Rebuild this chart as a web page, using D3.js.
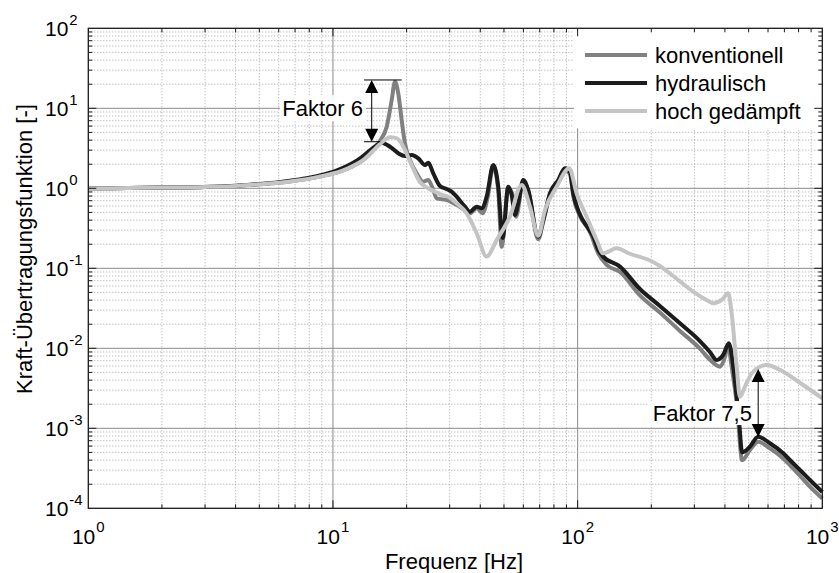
<!DOCTYPE html>
<html><head><meta charset="utf-8">
<script src="https://cdn.jsdelivr.net/npm/d3@7"></script>
<style>body{margin:0;background:#fff;} text{font-family:"Liberation Sans",Arial,Helvetica,sans-serif;fill:#000;}</style>
</head><body><svg id="c" width="839" height="573"></svg>
<script>
// ---------------- data ----------------
const seriesNames = ["konventionell", "hydraulisch", "hoch gedämpft"];

const freqKonv = [1,2,3,4,5,6,7,8,9,10,11,12,13,14,15,15.56,16.58,17.38,17.92,18.49,19.09,19.69,20.64,21.99,23.39,24.52,25.7,26.53,29.15,33.04,36.3,38.67,40.91,42.8,45.2,47.37,48.91,52.05,54.56,55.96,59.95,62.83,69.02,72.34,77.05,83.33,88.74,93.0,95.94,102.2,112.3,121.4,131.4,148.9,179.7,216.9,261.9,316.1,347.3,381.6,395,412.6,426.1,449,470,506.1,547.2,610.8,692.1,737.1,835.6,890,1000];
const valKonv  = [1.0,1.02,1.04,1.07,1.12,1.17,1.24,1.32,1.42,1.53,1.68,1.88,2.15,2.6,3.3,3.9,5.89,12.7,21.5,15.4,7.14,3.65,2.26,1.54,1.21,1.27,0.953,0.75,0.714,0.589,0.487,0.562,0.487,0.75,1.86,0.95,0.186,1.0,0.785,0.44,1.21,0.92,0.23,0.38,0.825,1.2,1.69,1.5,0.8,0.45,0.285,0.154,0.11,0.09,0.046,0.028,0.0165,0.0099,0.0072,0.0059,0.0069,0.0105,0.0059,0.0018,0.0004,0.000535,0.00068,0.00056,0.00042,0.000348,0.00023,0.000186,0.000133];

const freqHydr = [1,2,3,4,5,6,7,8,9,10,11,12,13,14,15,15.8,17.1,18.49,19.69,20.97,22.32,23.77,24.52,25.7,27.37,29.15,30.55,32.02,34.63,36.3,38.67,40.53,42.48,45.2,47.37,49.37,52.05,53.75,55.44,57.19,59.95,62.83,69.02,72.34,77.05,83.33,88.74,93.0,95.94,102.2,110.5,115.8,121.4,127.2,148.9,179.7,216.9,261.9,316.1,347.3,369.9,393.6,415,432.5,446.6,457.6,470,506.1,547.2,610.8,692.1,737.1,835.6,890,1000];
const valHydr  = [1.0,1.02,1.04,1.08,1.13,1.19,1.27,1.36,1.47,1.6,1.8,2.05,2.4,2.9,3.4,3.72,3.31,2.74,2.53,2.61,2.37,1.95,2.09,1.54,1.07,0.98,0.907,0.785,0.589,0.51,0.589,0.562,0.785,1.95,1.047,0.24,1.047,0.825,0.464,0.649,1.27,0.953,0.248,0.4,0.866,1.27,1.78,1.61,0.866,0.47,0.316,0.248,0.169,0.14,0.105,0.0551,0.0338,0.0205,0.0123,0.009,0.00714,0.00825,0.0116,0.00589,0.00248,0.00116,0.0005,0.00059,0.000785,0.00065,0.000487,0.000402,0.000274,0.000226,0.00016];

const freqGed = [1,2,3,4,5,6,7,8,9,10,11,12,13,14,15,16,17.1,17.92,18.78,19.69,20.97,22.68,24.52,26.12,27.81,29.59,32.02,35.19,38.67,42.48,46.67,52.89,59.05,63.85,69.02,73.51,82.09,92.4,99.06,108.8,119.6,127.2,131.4,144.3,163.6,197.5,216.9,253.9,296.8,347.3,358.3,387.7,412.6,426.1,446.6,460.7,482.9,514.2,555.9,592.1,692.1,835.6,1000];
const valGed  = [1.0,1.02,1.04,1.07,1.12,1.17,1.24,1.32,1.42,1.53,1.68,1.88,2.15,2.6,3.2,3.85,4.35,4.3,3.9,3.0,1.95,1.2,1.0,0.907,0.825,0.785,0.649,0.487,0.274,0.14,0.226,0.442,1.1,0.589,0.255,0.535,1.047,1.78,0.866,0.442,0.226,0.154,0.158,0.178,0.152,0.125,0.107,0.074,0.051,0.038,0.0365,0.0402,0.0487,0.0274,0.0059,0.00248,0.00331,0.00487,0.00589,0.0062,0.0051,0.00348,0.00237];

const xTickExps = [0, 1, 2, 3];
const yTickExps = [-4, -3, -2, -1, 0, 1, 2];
const xLabel = "Frequenz [Hz]";
const yLabel = "Kraft-Übertragungsfunktion [-]";
const annotText1 = "Faktor 6";
const annotText2 = "Faktor 7,5";

// ---------------- chart ----------------
const svg = d3.select("#c");
const L = 88.3, R = 822.3, T = 28.3, B = 508.3;
const x = d3.scaleLog().domain([1, 1000]).range([L, R]);
const y = d3.scaleLog().domain([1e-4, 1e2]).range([B, T]);

// grid
const grid = svg.append("g");
for (let d = 0; d < 3; d++) for (let m = 1; m <= 9; m++) {
  const f = m * Math.pow(10, d);
  if (f <= 1) continue;
  const X = x(f);
  grid.append("line").attr("x1", X).attr("x2", X).attr("y1", T).attr("y2", B)
    .attr("stroke", m === 1 ? "#8a8a8a" : "#a6a6a6").attr("stroke-width", 1)
    .attr("stroke-dasharray", m === 1 ? null : "1,2");
}
for (let d = -4; d < 2; d++) for (let m = 1; m <= 9; m++) {
  const v = m * Math.pow(10, d);
  if (v <= 1e-4) continue;
  const Y = y(v);
  grid.append("line").attr("x1", L).attr("x2", R).attr("y1", Y).attr("y2", Y)
    .attr("stroke", m === 1 ? "#8a8a8a" : "#a6a6a6").attr("stroke-width", 1)
    .attr("stroke-dasharray", m === 1 ? null : "1,2");
}

// curves
const line = d3.line().x(d => x(d[0])).y(d => y(d[1])).curve(d3.curveMonotoneX);
const series = [
  {f: freqKonv, v: valKonv, color: "#808080"},
  {f: freqHydr, v: valHydr, color: "#1c1c1c"},
  {f: freqGed, v: valGed, color: "#c4c4c4"}
];
const plot = svg.append("g");
series.forEach(s => {
  plot.append("path").datum(s.f.map((f, i) => [f, s.v[i]]))
    .attr("d", line).attr("fill", "none").attr("stroke", s.color)
    .attr("stroke-width", 4).attr("stroke-linejoin", "round");
});

// legend
const leg = svg.append("g");
leg.append("rect").attr("x", 574).attr("y", T + 1).attr("width", R - 574 - 1).attr("height", 99).attr("fill", "#fff");
seriesNames.forEach((n, i) => {
  const yy = 55 + i * 28;
  leg.append("line").attr("x1", 585).attr("x2", 647).attr("y1", yy).attr("y2", yy)
    .attr("stroke", series[i].color).attr("stroke-width", 4);
  leg.append("text").attr("x", 655).attr("y", yy + 8).attr("font-size", 22).text(n);
});

// annotations
function arrowHead(g, X, Y, dir) { // dir -1: pointing up, +1: pointing down
  const h = 13, w = 6.5;
  g.append("path").attr("d", `M${X},${Y} L${X - w},${Y - dir * h} L${X + w},${Y - dir * h} Z`).attr("fill", "#000");
}
const ann = svg.append("g");
// Faktor 6
{
  const ax = x(14.4), yTop = y(22.6), yBot = y(3.82);
  ann.append("line").attr("x1", x(13.4)).attr("x2", x(19.1)).attr("y1", yTop).attr("y2", yTop).attr("stroke", "#000").attr("stroke-width", 1);
  ann.append("line").attr("x1", x(13.4)).attr("x2", x(15.6)).attr("y1", yBot).attr("y2", yBot).attr("stroke", "#000").attr("stroke-width", 1);
  ann.append("line").attr("x1", ax).attr("x2", ax).attr("y1", yTop + 10).attr("y2", yBot - 10).attr("stroke", "#000").attr("stroke-width", 1);
  arrowHead(ann, ax, yTop, -1);
  arrowHead(ann, ax, yBot, 1);
  const tx = x(13.27), ty = y(10);
  ann.append("rect").attr("x", tx - 83).attr("y", ty - 13).attr("width", 86).attr("height", 26).attr("fill", "#fff");
  ann.append("text").attr("x", tx).attr("y", ty + 8).attr("text-anchor", "end").attr("font-size", 22).text(annotText1);
}
// Faktor 7,5
{
  const tx = x(515.6), ty = y(0.00155);
  ann.append("rect").attr("x", tx - 103).attr("y", ty - 12).attr("width", 106).attr("height", 24).attr("fill", "#fff");
  ann.append("text").attr("x", tx).attr("y", ty + 8).attr("text-anchor", "end").attr("font-size", 22).text(annotText2);
  const ax = x(547), yTop = y(0.0055), yBot = y(0.00078);
  ann.append("line").attr("x1", ax).attr("x2", ax).attr("y1", yTop + 10).attr("y2", yBot - 10).attr("stroke", "#000").attr("stroke-width", 1);
  arrowHead(ann, ax, yTop, -1);
  arrowHead(ann, ax, yBot, 1);
}

// frame + ticks
const ax = svg.append("g");
ax.append("rect").attr("x", L).attr("y", T).attr("width", R - L).attr("height", B - T)
  .attr("fill", "none").attr("stroke", "#1a1a1a").attr("stroke-width", 1.3);
for (let d = 0; d < 3; d++) for (let m = 1; m <= 9; m++) {
  const f = m * Math.pow(10, d);
  if (f <= 1) continue;
  const X = x(f), len = m === 1 ? 8 : 4;
  ax.append("line").attr("x1", X).attr("x2", X).attr("y1", B).attr("y2", B - len).attr("stroke", "#1a1a1a");
  ax.append("line").attr("x1", X).attr("x2", X).attr("y1", T).attr("y2", T + len).attr("stroke", "#1a1a1a");
}
for (let d = -4; d < 2; d++) for (let m = 1; m <= 9; m++) {
  const v = m * Math.pow(10, d);
  if (v <= 1e-4) continue;
  const Y = y(v), len = m === 1 ? 8 : 4;
  ax.append("line").attr("x1", L).attr("x2", L + len).attr("y1", Y).attr("y2", Y).attr("stroke", "#1a1a1a");
  ax.append("line").attr("x1", R).attr("x2", R - len).attr("y1", Y).attr("y2", Y).attr("stroke", "#1a1a1a");
}

// tick labels
xTickExps.forEach(e => {
  const t = ax.append("text").attr("x", x(Math.pow(10, e))).attr("y", 544).attr("text-anchor", "middle").attr("font-size", 21);
  t.append("tspan").text("10");
  t.append("tspan").attr("dy", -12).attr("dx", 1).attr("font-size", 15).text(e);
});
yTickExps.forEach(e => {
  const t = ax.append("text").attr("x", 45).attr("y", y(Math.pow(10, e)) + 7.5).attr("font-size", 21);
  t.append("tspan").text("10");
  t.append("tspan").attr("dy", -11).attr("dx", 1).attr("font-size", 15).text(e);
});

// axis labels
ax.append("text").attr("x", 454).attr("y", 569).attr("text-anchor", "middle").attr("font-size", 22).text(xLabel);
ax.append("text").attr("transform", "translate(32,249) rotate(-90)").attr("text-anchor", "middle").attr("font-size", 22).text(yLabel);
</script></body></html>
